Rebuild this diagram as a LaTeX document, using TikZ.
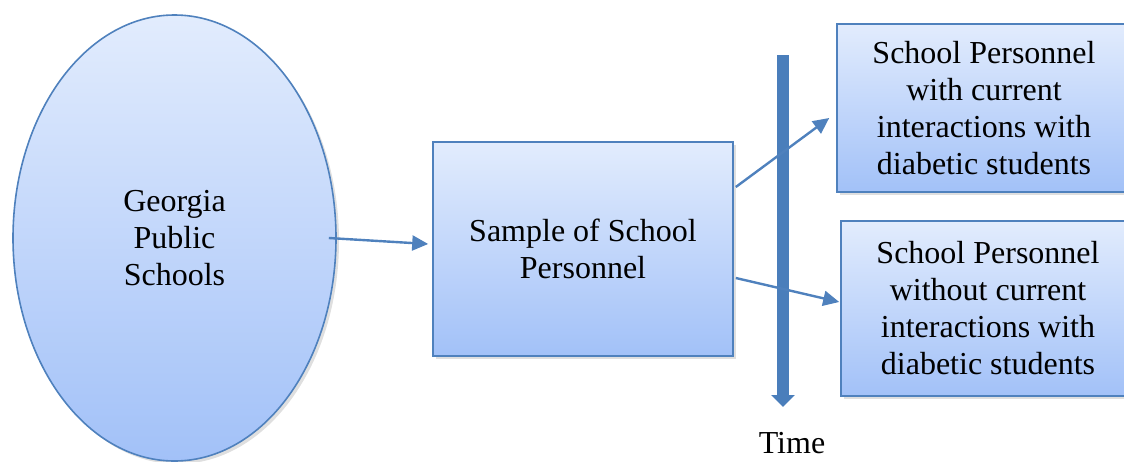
\documentclass[tikz,border=0pt]{standalone}
\usepackage{fontspec}
\setmainfont{Liberation Serif}
\usetikzlibrary{shapes.geometric,shadows,arrows.meta}

\begin{document}
\begin{tikzpicture}[x=0.5pt, y=-0.5pt]
  \definecolor{myline}{HTML}{4F81BD}
  \definecolor{mytop}{HTML}{E2ECFD}
  \definecolor{mybottom}{HTML}{A2C1F8}
  \definecolor{mybar}{HTML}{4A7EBB}
  \tikzstyle{every node}=[font=\fontsize{16}{18.5}\selectfont, align=center]
  \tikzstyle{shade}=[draw=myline, line width=0.8pt, top color=mytop, bottom color=mybottom,
    drop shadow={shadow xshift=1.5pt, shadow yshift=-1.5pt, opacity=0.25}]
  \tikzstyle{group}=[shade, rectangle, inner sep=0pt]
  \tikzstyle{link}=[myline, line width=1.2pt, -{Triangle[length=8pt, width=7.5pt]}]

  \path[use as bounding box, clip] (0,0) rectangle (1124,461);

  % population and sample
  \node[shade, ellipse, inner sep=0pt, minimum width=161.5pt, minimum height=223pt]
    (schools) at (174.5,238) {Georgia\\ Public\\ Schools};
  \node[group, minimum width=150pt, minimum height=107pt]
    (sample) at (583,249) {Sample of School\\ Personnel};

  % the two groups
  \node[group, minimum width=147pt, minimum height=84pt]
    (with) at (984,108) {School Personnel\\ with current\\ interactions with\\ diabetic students};
  \node[group, minimum width=147pt, minimum height=87.5pt]
    (without) at (988,308.5) {School Personnel\\ without current\\ interactions with\\ diabetic students};

  % time line
  \coordinate (ttop) at (783,55);
  \coordinate (tend) at (783,407);
  \node (time) at (792,443) {Time};
  \draw[mybar, line width=6pt, -{Triangle[length=6pt, width=11.5pt]}] (ttop) -- (tend);

  \draw[link] ([xshift=-4pt]schools.east) -- ([xshift=-2pt, yshift=2.5pt]sample.west);
  \draw[link] ([xshift=1pt, yshift=31pt]sample.east) -- ([xshift=-3.5pt, yshift=-5pt]with.west);
  \draw[link] ([xshift=1pt, yshift=-14.5pt]sample.east) -- ([xshift=-0.5pt, yshift=3.25pt]without.west);

\end{tikzpicture}
\end{document}
